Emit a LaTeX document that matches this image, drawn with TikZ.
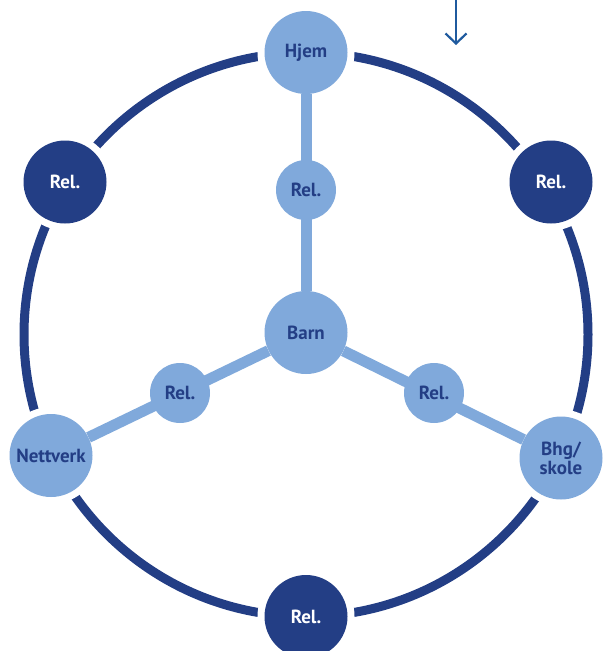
\documentclass[tikz,border=0pt]{standalone}
\usepackage{fontspec}
\setmainfont{PT Sans}
\usetikzlibrary{arrows.meta}
\definecolor{navy}{HTML}{233E85}
\definecolor{lightb}{HTML}{80A9DB}
\definecolor{arrowb}{HTML}{1F5A9E}
\tikzset{
  bignode/.style={circle, inner sep=0pt, minimum size=83pt, font=\bfseries\fontsize{19}{19}\selectfont, align=center},
  lightnode/.style={bignode, fill=lightb, text=navy, preaction={draw=white, line width=14pt}},
  darknode/.style={bignode, fill=navy, text=white, preaction={draw=white, line width=14pt}},
  smallnode/.style={circle, inner sep=0pt, minimum size=60pt, fill=lightb, text=navy, font=\bfseries\fontsize{19}{19}\selectfont},
  ring/.style={draw=navy, line width=9pt},
  spoke/.style={draw=lightb, line width=11pt},
  downarrow/.style={draw=arrowb, line width=2pt, -{Straight Barb[length=10pt,width=21pt,line width=2.2pt]}}
}
\begin{document}
\begin{tikzpicture}[x=1pt,y=-1pt]
\useasboundingbox (0,0) rectangle (605,651);
\clip (0,0) rectangle (605,651);
\coordinate (c) at (306,334.5);
\draw[ring] (c) circle[radius=282];
\node[lightnode] (hjem) at (306,52.5) {Hjem};
\node[darknode] (relL) at (65,182) {Rel.};
\node[darknode] (relR) at (551,182) {Rel.};
\node[lightnode] (nett) at (51,455.5) {Nettverk};
\node[lightnode] (bhg) at (561,458) {Bhg/\\skole};
\node[darknode] (relB) at (306,616.5) {Rel.};
\node[lightnode] (barn) at (306,332.5) {Barn};
\coordinate (s1) at (306,190);
\coordinate (s2) at (180,393);
\coordinate (s3) at (434,393);
\draw[spoke] (barn) -- (hjem);
\draw[spoke] (barn) -- (nett);
\draw[spoke] (barn) -- (bhg);
\node[smallnode] (r1) at (s1) {Rel.};
\node[smallnode] (r2) at (s2) {Rel.};
\node[smallnode] (r3) at (s3) {Rel.};
\coordinate (atop) at (456,0);
\coordinate (abot) at (456,45);
\draw[downarrow] (atop) -- (abot);
\end{tikzpicture}
\end{document}
